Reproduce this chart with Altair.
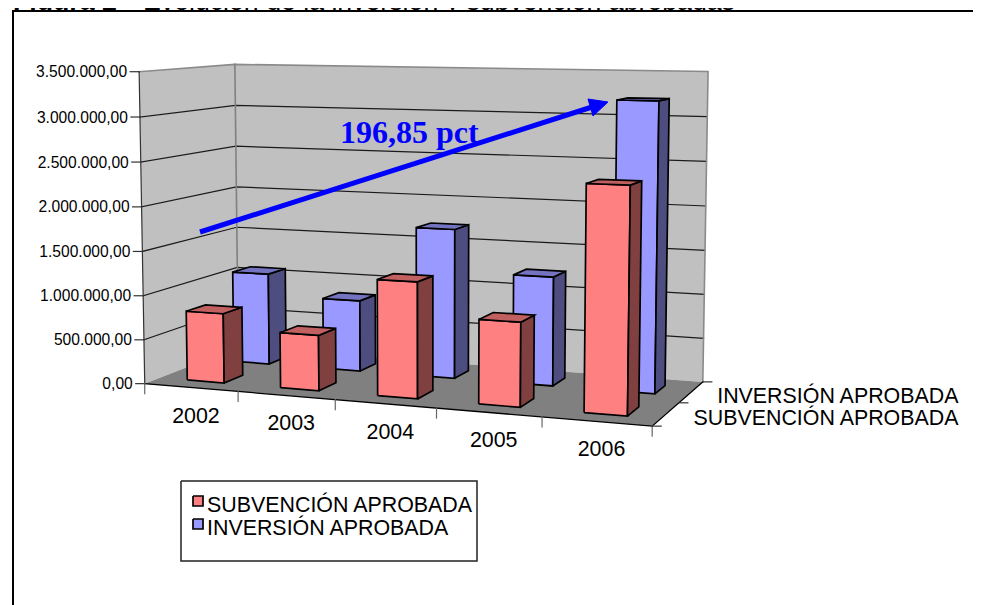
import altair as alt
import numpy as np
import pandas as pd

# ---- data ----
years = ["2002", "2003", "2004", "2005", "2006"]
subvencion = [790000, 620000, 1280000, 915000, 2410000]
inversion = [1075000, 825000, 1710000, 1230000, 3210000]
series_names = ["SUBVENCIÓN APROBADA", "INVERSIÓN APROBADA"]
value_ticks = [0, 500000, 1000000, 1500000, 2000000, 2500000, 3000000, 3500000]
tick_labels = ["0,00", "500.000,00", "1.000.000,00", "1.500.000,00", "2.000.000,00",
               "2.500.000,00", "3.000.000,00", "3.500.000,00"]
annotation = "196,85 pct"
title_bold = "Figura 2"
title_rest = "Evolución de la inversión y subvención aprobadas"

W, H = 965, 597
FONT = "Liberation Sans"

# ---- 3D view: box corners (u along years, v depth, h value fraction) -> page pixels
box_3d = [(0,0,0),(0,0,1),(0,1,0),(0,1,1),(1,1,0),(1,1,1),(1,0,0),(1,0,1)]
box_px = [(145,384),(139,71),(238,347),(235,65),(703,382),(708,71),(652,426),(657,81)]
A, b = [], []
for (u,v,h),(px,py) in zip(box_3d, box_px):
    A.append([u,v,h,1,0,0,0,0,-px*u,-px*v,-px*h]); b.append(px)
    A.append([0,0,0,0,u,v,h,1,-py*u,-py*v,-py*h]); b.append(py)
m = np.linalg.lstsq(np.array(A,float), np.array(b,float), rcond=None)[0]
M = np.append(m,1).reshape(3,4)
def P(u,v,h):
    r = M @ np.array([u,v,h,1.0])
    return (float(r[0]/r[2]), float(r[1]/r[2]))

polys, lines, texts, title_texts = [], [], [], []
def poly(pts, fill, group):
    pid = f"{len(polys):04d}"
    for i,(x,y) in enumerate(list(pts)+[pts[0]]):
        polys.append(dict(id=pid, i=i, x=x, y=y, fill=fill, group=group))
def line(pts, color, sw):
    lid = f"{len(lines):04d}"
    for i,(x,y) in enumerate(pts):
        lines.append(dict(id=lid, i=i, x=x, y=y, color=color, sw=sw))

VMAX = value_ticks[-1]
# walls and floor
poly([P(0,0,0),P(0,0,1),P(0,1,1),P(0,1,0)], "#C0C0C0", "wall")
poly([P(0,1,0),P(0,1,1),P(1,1,1),P(1,1,0)], "#C0C0C0", "wall")
poly([P(0,0,0),P(0,1,0),P(1,1,0),P(1,0,0)], "#808080", "floor")
wall_polys = pd.DataFrame(polys); polys.clear()

# gridlines
for t in value_ticks[1:-1]:
    h = t/VMAX
    line([P(0,0,h),P(0,1,h),P(1,1,h)], "#1a1a1a", 1.2)
line([P(0,0,1),P(0,1,1),P(1,1,1),P(1,1,0)], "#8a8a8a", 1.6)
line([P(0,1,1),P(0,1,0)], "#808080", 1.6)
line([P(0,0,1),P(0,0,0)], "#333333", 1.2)
# front floor edges, ticks
line([P(0,0,0),P(1,0,0),P(1,1,0)], "#000000", 1.3)
for t in value_ticks:
    x,y = P(0,0,t/VMAX)
    line([(x-9,y),(x,y)], "#333333", 1.2)
for k in range(6):
    x,y = P(k/5,0,0)
    line([(x,y),(x,y+10)], "#666666", 1.2)
for k in range(3):
    x,y = P(1,k/2,0)
    line([(x,y),(x+9,y)], "#333333", 1.2)

# bars: blue row behind the red one
FRONT = {0:"#FF8080",1:"#9999FF"}
SIDE = {0:"#804040",1:"#4D4D80"}
TOP = {0:"#C06060",1:"#7373BF"}
for j,vals in [(1,inversion),(0,subvencion)]:
    v0,v1 = (j+.3)/2,(j+.7)/2
    for i,val in enumerate(vals):
        u0,u1 = (i+.3)/5,(i+.7)/5
        h = val/VMAX
        poly([P(u0,v0,0),P(u0,v0,h),P(u1,v0,h),P(u1,v0,0)], FRONT[j], "bar")
        poly([P(u1,v0,0),P(u1,v0,h),P(u1,v1,h),P(u1,v1,0)], SIDE[j], "bar")
        poly([P(u0,v0,h),P(u0,v1,h),P(u1,v1,h),P(u1,v0,h)], TOP[j], "bar")
# legend swatches
for k,yy in enumerate([496,519]):
    poly([(193,yy),(203,yy),(203,yy+10),(193,yy+10)], FRONT[k], "bar")
bar_polys = pd.DataFrame(polys); polys.clear()

# arrow
arrow_head = [(608,102),(588,99),(593,116)]
poly(arrow_head, "#0000FF", "arrow")
arrow_polys = pd.DataFrame(polys); polys.clear()
arrow_shaft = [(200,232),(592,107)]

# texts
def text(x,y,t,size,align="left",font=FONT,weight="normal",color="#000000",store=texts):
    store.append(dict(x=x,y=y,t=t,size=size,align=align,font=font,weight=weight,color=color))
for t,lab in zip(value_ticks,tick_labels):
    x,y = P(0,0,t/VMAX)
    text(x-12,y+5.5,lab,15.6,"right")
for i,yr in enumerate(years):
    x,y = P((i+.5)/5,0,0)
    text(x+5,y+35,yr,21.4,"center")
text(958.5,403,series_names[1],21.4,"right")
text(958.5,425,series_names[0],21.4,"right")
text(207,512,series_names[0],21.4)
text(207,535,series_names[1],21.4)
text(340,143,annotation,32,"left","Liberation Serif","bold","#0000FF")
text(13,10,title_bold,26.7,"left",FONT,"bold",store=title_texts)
text(143,10,title_rest,26.7,store=title_texts)

xs = alt.X("x:Q", scale=alt.Scale(domain=[8,8+W],range=[0,W],nice=False,zero=False), axis=None)
ys = alt.Y("y:Q", scale=alt.Scale(domain=[8,8+H],range=[0,H],nice=False,zero=False), axis=None)

def poly_layer(df, **mk):
    return alt.Chart(df).mark_line(interpolate="linear", **mk).encode(
        x=xs, y=ys, detail="id:N", order="i:Q", fill=alt.Fill("fill:N", scale=None))

def line_layer(df):
    return alt.Chart(df).mark_line(strokeCap="square").encode(
        x=xs, y=ys, detail="id:N", order="i:Q",
        color=alt.Color("color:N", scale=None), strokeWidth=alt.StrokeWidth("sw:Q", scale=None))

def text_layers(rows):
    out = []
    for (al,fo,we,co,si), g in pd.DataFrame(rows).groupby(["align","font","weight","color","size"], sort=False):
        out.append(alt.Chart(g).mark_text(align=al,baseline="alphabetic",font=fo,fontWeight=we,color=co,fontSize=si).encode(x=xs,y=ys,text="t:N"))
    return out

frame_layer = alt.Chart(pd.DataFrame(dict(id="f",i=range(3),x=[13,13,981],y=[605,11,11]))).mark_line(
    color="#000000", strokeWidth=2).encode(x=xs,y=ys,detail="id:N",order="i:Q")
legend_box = alt.Chart(pd.DataFrame(dict(id="l",i=range(5),x=[181,477,477,181,181],y=[481,481,561,561,481]))).mark_line(
    color="#222222", strokeWidth=1.5).encode(x=xs,y=ys,detail="id:N",order="i:Q")
shaft = alt.Chart(pd.DataFrame(dict(id="s",i=range(2),x=[p[0] for p in arrow_shaft],y=[p[1] for p in arrow_shaft]))).mark_line(
    color="#0000FF", strokeWidth=5).encode(x=xs,y=ys,detail="id:N",order="i:Q")
title_mask = alt.Chart(pd.DataFrame(dict(id="w",i=range(2),x=[8,973],y=[15,15]))).mark_line(
    color="#FFFFFF", strokeWidth=8).encode(x=xs,y=ys,detail="id:N",order="i:Q")

chart = alt.layer(
    *text_layers(title_texts),
    title_mask,
    frame_layer,
    poly_layer(wall_polys, stroke=None, strokeWidth=0),
    line_layer(pd.DataFrame(lines)),
    poly_layer(bar_polys, stroke="#000000", strokeWidth=1.7, strokeJoin="miter"),
    legend_box,
    shaft,
    poly_layer(arrow_polys, stroke="#0000FF", strokeWidth=1),
    *text_layers(texts),
).properties(width=W, height=H, padding=0, autosize=alt.AutoSizeParams(type="none")
).configure_view(stroke=None)

chart.save("out.html", embed_options={"renderer": "svg", "actions": False})
